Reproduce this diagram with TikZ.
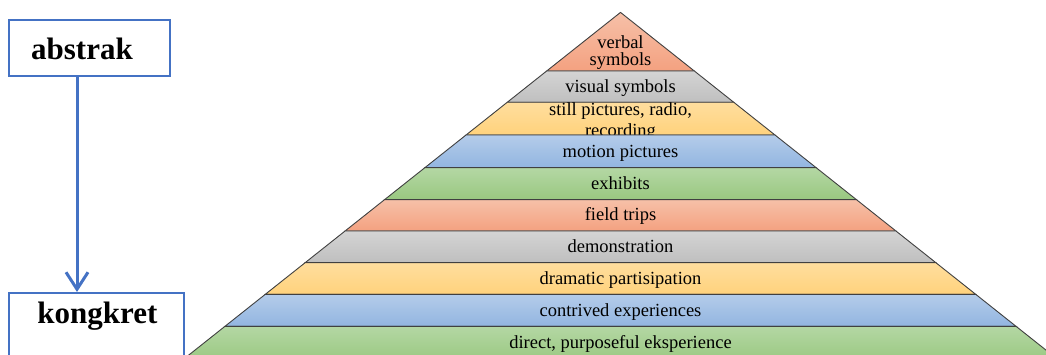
\documentclass[tikz,border=0pt]{standalone}
\usepackage{fontspec}
\setmainfont{Liberation Serif}
\usetikzlibrary{arrows.meta}
\definecolor{boxblue}{HTML}{4472C4}
\definecolor{orT}{HTML}{F6C0A8}\definecolor{orB}{HTML}{F4A180}
\definecolor{grT}{HTML}{D4D4D4}\definecolor{grB}{HTML}{BFBFBF}
\definecolor{yeT}{HTML}{FFDE9E}\definecolor{yeB}{HTML}{FFD27C}
\definecolor{blT}{HTML}{B4CCEA}\definecolor{blB}{HTML}{92B5E0}
\definecolor{gnT}{HTML}{B4D7A4}\definecolor{gnB}{HTML}{99C880}
\definecolor{edge}{HTML}{404040}
\tikzset{
  lvbox/.style={draw=boxblue, line width=2pt, fill=white, inner sep=0pt},
  lvtext/.style={font=\bfseries\fontsize{31}{34}\selectfont, inner sep=0pt, anchor=base},
  layer/.style={draw=edge, line width=0.9pt, line join=miter},
  ltext/.style={font=\fontsize{18.5}{16.5}\selectfont, inner sep=0pt, anchor=base, align=center},
  orL/.style={top color=orT, bottom color=orB},
  grL/.style={top color=grT, bottom color=grB},
  yeL/.style={top color=yeT, bottom color=yeB},
  blL/.style={top color=blT, bottom color=blB},
  gnL/.style={top color=gnT, bottom color=gnB},
}
\newcommand{\pyrlayer}[3]{% top y, bottom y, style
  \pgfmathsetmacro{\hT}{1.26*(#1-12.4)}%
  \pgfmathsetmacro{\hB}{1.26*(#2-12.4)}%
  \path[layer,#3] (620.5-\hT,#1) -- (620.5+\hT,#1) -- (620.5+\hB,#2) -- (620.5-\hB,#2) -- cycle;
}
\begin{document}
\begin{tikzpicture}[x=1pt,y=-1pt]
\useasboundingbox (0,0) rectangle (1046,355);
\clip (0,0) rectangle (1046,355);
% pyramid layers (top to bottom so lower layers cover overflowing text)
\pyrlayer{12.4}{71}{orL}
\node[ltext] (t1) at (620.5,49) {verbal};
\node[ltext] (t1b) at (620.5,65.7) {symbols};
\pyrlayer{71}{102.3}{grL}
\node[ltext] (t2) at (620.5,92.3) {visual symbols};
\pyrlayer{102.3}{135}{yeL}
\node[ltext] (t3) at (620.5,116) {still pictures, radio,};
\node[ltext] (t3b) at (620.5,136.2) {recording};
\pyrlayer{135}{167.7}{blL}
\node[ltext] (t4) at (620.5,157.5) {motion pictures};
\pyrlayer{167.7}{199.7}{gnL}
\node[ltext] (t5) at (620.5,189.5) {exhibits};
\pyrlayer{199.7}{231}{orL}
\node[ltext] (t6) at (620.5,221) {field trips};
\pyrlayer{231}{262.7}{grL}
\node[ltext] (t7) at (620.5,252.7) {demonstration};
\pyrlayer{262.7}{294.3}{yeL}
\node[ltext] (t8) at (620.5,284.5) {dramatic partisipation};
\pyrlayer{294.3}{326.3}{blL}
\node[ltext] (t9) at (620.5,316.3) {contrived experiences};
\pyrlayer{326.3}{362}{gnL}
\node[ltext] (t10) at (620.5,348.3) {direct, purposeful eksperience};
% left boxes
\node[lvbox, minimum width=161pt, minimum height=56pt] (abs) at (89.5,48) {};
\node[lvtext] (absT) at (82,59.3) {abstrak};
\node[lvbox, minimum width=175pt, minimum height=72pt] (kon) at (96.5,329) {};
\node[lvtext] (konT) at (97.5,323.5) {kongkret};
\coordinate (ax) at (77,0);
\draw[boxblue, line width=3pt, -{Straight Barb[length=17pt,width=22pt]}]
  (abs.south -| ax) -- (kon.north -| ax);
\end{tikzpicture}
\end{document}
